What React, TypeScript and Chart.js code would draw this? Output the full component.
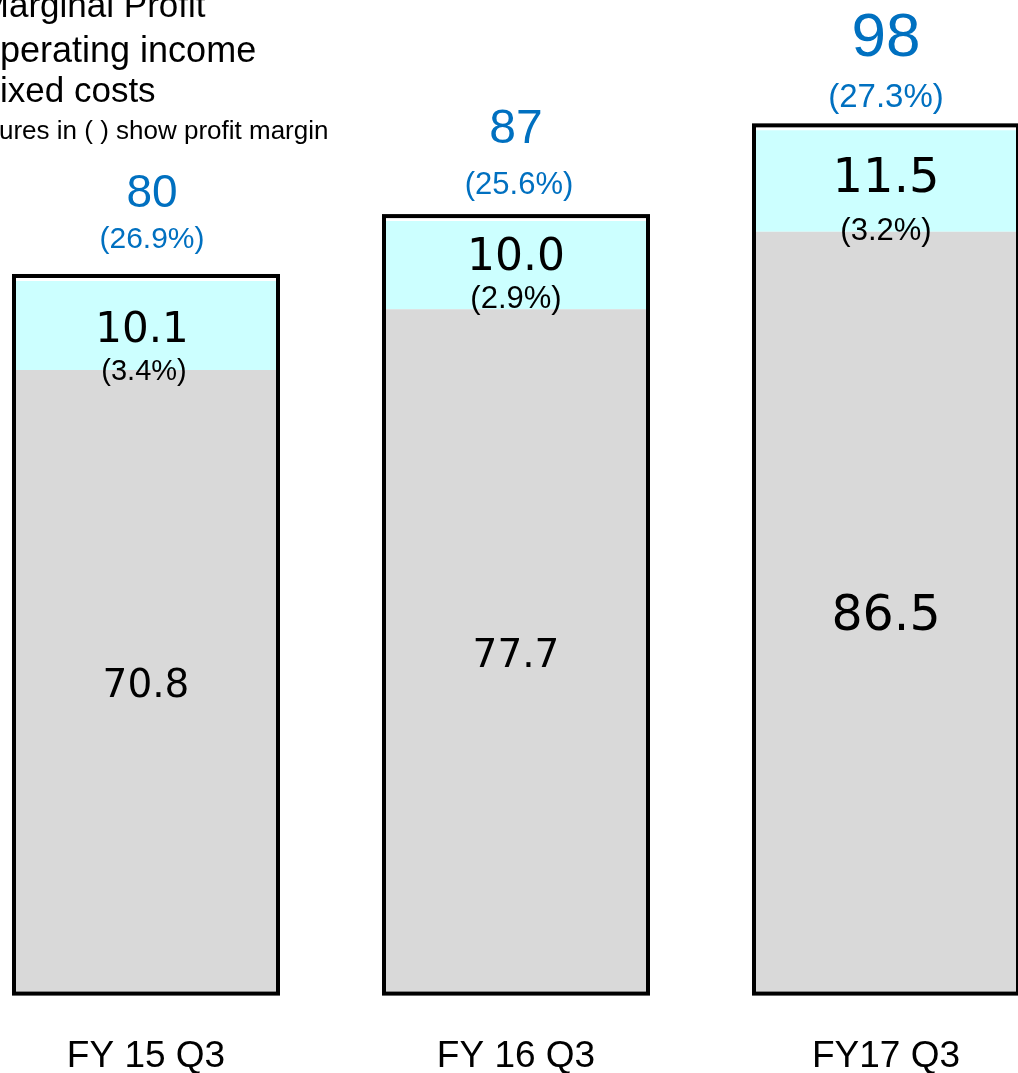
import React, { useEffect, useRef } from "react";
import { Chart, registerables } from "chart.js";

Chart.register(...registerables);

// ---- data ----
const categories = ["FY 15 Q3", "FY 16 Q3", "FY17 Q3"];
const fixedCosts = [70.8, 77.7, 86.5];
const operatingIncome = [10.1, 10.0, 11.5];
const operatingMarginLabels = ["(3.4%)", "(2.9%)", "(3.2%)"];
const marginalProfitLabels = ["80", "87", "98"];
const marginalMarginLabels = ["(26.9%)", "(25.6%)", "(27.3%)"];
const legendLines = [
  "Marginal Profit",
  "Operating income",
  "Fixed costs",
  "Figures in ( ) show profit margin",
];

// ---- styling / layout (not data) ----
const SHIFT = 39; // canvas is shifted left so that the plot runs off the page edges
const CANVAS_W = 1110;
const CANVAS_H = 1120;
const SANS = '"Liberation Sans", Arial, sans-serif';
const ROUND = '"DejaVu Sans", sans-serif';
const BLUE = "#0070C0";

const mpSize = [46, 48, 62];
const mpDy = [-87, -91, -91];
const mpDx = [6, 0, 0];
const mmSize = [30, 31, 33];
const mmDy = [-41, -36, -32];
const mmDx = [6, 3, 0];
const opSize = [42, 44, 48];
const opDy = [-39, -51, -52];
const opDx = [-4, 0, 0];
const omSize = [29, 31, 31];
const omDy = [2, -10, 0];
const omDx = [-2, 0, 0];
const fcSize = [39, 39, 49];
const fcDy = 5;

const legendStyle = [
  { prefix: "M", start: 9, base: 17, size: 35 },
  { prefix: "O", start: 0, base: 62, size: 36 },
  { prefix: "F", start: 0, base: 102, size: 35 },
  { prefix: "Fig", start: -1, base: 139, size: 26 },
];

const overlayPlugin = {
  id: "overlay",
  afterDraw(chart: any) {
    const ctx = chart.ctx as CanvasRenderingContext2D;
    const yScale = chart.scales.y;
    const metaF = chart.getDatasetMeta(0);
    const metaO = chart.getDatasetMeta(1);
    const zero = yScale.getPixelForValue(0);
    ctx.save();
    for (let i = 0; i < categories.length; i++) {
      const bf = metaF.data[i] as any;
      const bo = metaO.data[i] as any;
      const x = bf.x;
      const w = bf.width;
      const top = bo.y;
      const boundary = bf.y;
      // outline of whole stack
      ctx.lineWidth = 4;
      ctx.strokeStyle = "#000";
      ctx.strokeRect(x - w / 2, top - 5, w, zero - (top - 5));

      ctx.textAlign = "center";
      ctx.textBaseline = "middle";
      // marginal profit labels
      ctx.fillStyle = BLUE;
      ctx.font = `${mpSize[i]}px ${SANS}`;
      ctx.fillText(marginalProfitLabels[i], x + mpDx[i], top + mpDy[i]);
      ctx.font = `${mmSize[i]}px ${SANS}`;
      ctx.fillText(marginalMarginLabels[i], x + mmDx[i], top + mmDy[i]);
      // operating income labels
      ctx.fillStyle = "#000";
      ctx.font = `${opSize[i]}px ${ROUND}`;
      ctx.fillText(operatingIncome[i].toFixed(1), x + opDx[i], boundary + opDy[i]);
      ctx.font = `${omSize[i]}px ${SANS}`;
      ctx.fillText(operatingMarginLabels[i], x + omDx[i], boundary + omDy[i]);
      // fixed cost labels
      ctx.font = `${fcSize[i]}px ${ROUND}`;
      ctx.fillText(fixedCosts[i].toFixed(1), x, (boundary + zero) / 2 + fcDy);
    }
    // legend text (partly off the page edge)
    ctx.textAlign = "left";
    ctx.textBaseline = "alphabetic";
    ctx.fillStyle = "#000";
    legendLines.forEach((line, i) => {
      const st = legendStyle[i];
      ctx.font = `${st.size}px ${SANS}`;
      const pw = ctx.measureText(st.prefix).width;
      ctx.fillText(line, st.start + SHIFT - pw, st.base);
    });
    ctx.restore();
  },
};

export default function App() {
  const ref = useRef<HTMLCanvasElement | null>(null);
  useEffect(() => {
    if (!ref.current) return;
    const chart = new Chart(ref.current, {
      type: "bar",
      data: {
        labels: categories,
        datasets: [
          {
            label: "Fixed costs",
            data: fixedCosts,
            backgroundColor: "#d9d9d9",
            borderWidth: 0,
            barPercentage: 1,
            categoryPercentage: 0.7135,
          },
          {
            label: "Operating income",
            data: operatingIncome,
            backgroundColor: "#ccffff",
            borderWidth: 0,
            barPercentage: 1,
            categoryPercentage: 0.7135,
          },
        ],
      },
      options: {
        responsive: false,
        animation: false,
        layout: { padding: 0 },
        plugins: { legend: { display: false }, tooltip: { enabled: false } },
        scales: {
          x: {
            stacked: true,
            grid: { display: false, drawTicks: false },
            border: { display: false },
            ticks: {
              color: "#000",
              font: { family: SANS, size: 37 },
              padding: 41,
            },
          },
          y: { stacked: true, display: false, min: 0, max: 112.8 },
        },
      },
      plugins: [overlayPlugin],
    });
    return () => chart.destroy();
  }, []);
  return (
    <div
      style={{
        position: "absolute",
        left: 0,
        top: 0,
        width: 1018,
        height: 1073,
        overflow: "hidden",
        background: "#fff",
      }}
    >
      <canvas
        ref={ref}
        width={CANVAS_W}
        height={CANVAS_H}
        style={{ position: "absolute", left: -SHIFT, top: 0, width: CANVAS_W, height: CANVAS_H, display: "block" }}
      />
    </div>
  );
}
